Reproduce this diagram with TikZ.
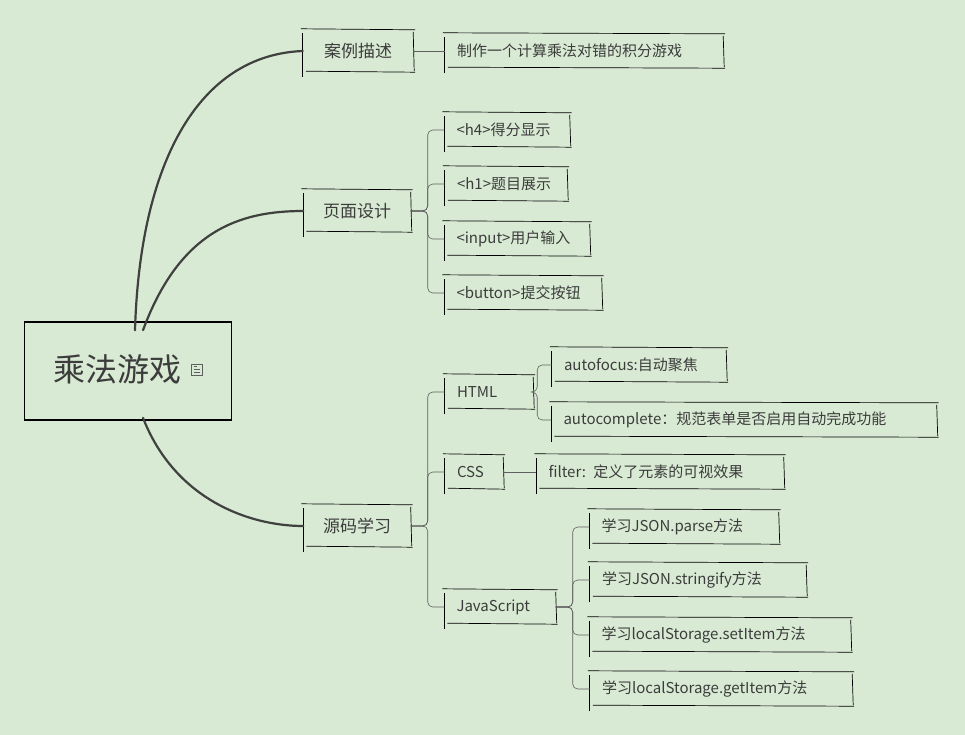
\documentclass[tikz,border=0pt]{standalone}
\usepackage{fontspec}
\setmainfont{Noto Sans CJK SC}
\usepackage{tikz}
\usetikzlibrary{positioning}
\definecolor{bgmind}{RGB}{216,234,211}
\definecolor{txtmind}{RGB}{60,60,60}
\definecolor{linkmind}{RGB}{95,95,95}
\tikzset{
  topic/.style={inner xsep=12pt, inner ysep=0pt, text=txtmind, font=\fontsize{15}{17}\selectfont, minimum height=34pt, align=left},
  maintopic/.style={topic, font=\fontsize{17}{20}\selectfont, minimum height=42pt, inner xsep=0pt, align=center},
  edge/.style={draw=black, line width=0.7pt},
  link/.style={draw=linkmind, line width=0.6pt, rounded corners=5pt},
  trunk/.style={draw=black!75, line width=2.2pt, line cap=round}
}
\newcommand{\sketchbox}[1]{%
  \draw[edge] ([xshift=-2pt,yshift=1pt]#1.north west) -- ([xshift=2pt]#1.north east);
  \draw[edge] ([yshift=-2pt]#1.north east) -- ([xshift=1pt,yshift=1pt]#1.south east);
  \draw[edge] ([xshift=2pt]#1.south east) -- ([xshift=3pt,yshift=1pt]#1.south west);
  \draw[edge] ([yshift=-5pt]#1.south west) -- ([yshift=-3pt]#1.north west);}
\begin{document}
\begin{tikzpicture}[x=1pt,y=-1pt]
\fill[bgmind] (0,0) rectangle (965,735);
\useasboundingbox (0,0) rectangle (965,735);

% root
\node[draw=black, line width=1.6pt, minimum width=207pt, minimum height=98pt] (root) at (128,371) {};
\node[text=txtmind, font=\fontsize{32}{36}\selectfont, inner sep=0pt] (roottext) at (117,369) {乘法游戏};
\node[draw=linkmind, fill=bgmind, line width=0.6pt, minimum size=11pt, inner sep=0pt] (note) at (197,370) {};
\draw[linkmind, line width=0.7pt] ([xshift=2.5pt,yshift=-2.5pt]note.north west) -- +(3,0)
  ([xshift=2.5pt,yshift=-5.5pt]note.north west) -- +(6,0)
  ([xshift=2.5pt,yshift=-8.5pt]note.north west) -- +(6,0);

% level one
\node[maintopic, minimum width=110pt] (desc) at (358,51) {案例描述};
\node[maintopic, minimum width=107pt] (page) at (357,211) {页面设计};
\node[maintopic, minimum width=107pt] (code) at (357,526) {源码学习};

% level two
\node[topic, text width=254pt] (descA) at (584,51) {制作一个计算乘法对错的积分游戏};
\node[topic, text width=101pt] (h4) at (507,130) {<h4>得分显示};
\node[topic, text width=98pt] (h1) at (506,184) {<h1>题目展示};
\node[topic, text width=121pt] (input) at (517,239) {<input>用户输入};
\node[topic, text width=133pt] (button) at (523,293) {<button>提交按钮};
\node[topic, text width=64pt] (html) at (489,392) {HTML};
\node[topic, text width=34pt] (css) at (474,472) {CSS};
\node[topic, text width=87pt] (js) at (500,607) {JavaScript};

% level three
\node[topic, text width=150pt] (autofocus) at (639,365) {autofocus:自动聚焦};
\node[topic, text width=361pt] (autocomp) at (744,420) {autocomplete：规范表单是否启用自动完成功能};
\node[topic, text width=223pt] (filter) at (660,472) {filter: 定义了元素的可视效果};
\node[topic, text width=165pt] (parse) at (684,527) {学习JSON.parse方法};
\node[topic, text width=192pt] (stringify) at (698,580) {学习JSON.stringify方法};
\node[topic, text width=237pt] (setitem) at (720,635) {学习localStorage.setItem方法};
\node[topic, text width=238pt] (getitem) at (721,689) {学习localStorage.getItem方法};

\foreach \b in {desc,page,code,descA,h4,h1,input,button,html,css,js,autofocus,autocomp,filter,parse,stringify,setitem,getitem}
  {\sketchbox{\b}}

% trunks
\draw[trunk] ([xshift=7pt,yshift=-9pt]root.north) .. controls (140,160) and (200,55) .. (desc.west);
\draw[trunk] ([xshift=15pt,yshift=-9pt]root.north) .. controls (180,230) and (240,211) .. (page.west);
\draw[trunk] ([xshift=15pt,yshift=3pt]root.south) .. controls (175,500) and (250,526) .. (code.west);

% links
\draw[link] (desc.east) -- (descA.west);
\foreach \c in {h4,h1,input,button}
  \draw[link] (page.east) -- ++(17,0) |- (\c.west);
\foreach \c in {html,css,js}
  \draw[link] (code.east) -- ++(17,0) |- (\c.west);
\foreach \c in {autofocus,autocomp}
  \draw[link] (html.east) -- ++(4,0) |- (\c.west);
\draw[link] (css.east) -- (filter.west);
\foreach \c in {parse,stringify,setitem,getitem}
  \draw[link] (js.east) -- ++(17,0) |- (\c.west);
\end{tikzpicture}
\end{document}
